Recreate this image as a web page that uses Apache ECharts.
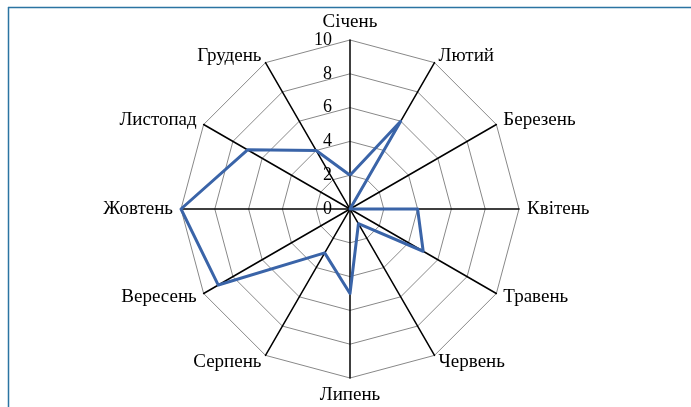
<!DOCTYPE html>
<html>
<head>
<meta charset="utf-8">
<script src="https://cdn.jsdelivr.net/npm/echarts@6/dist/echarts.min.js"></script>
<style>
  html, body { margin: 0; padding: 0; background: #fff; }
  #chart { width: 691px; height: 407px; }
</style>
</head>
<body>
<div id="chart"></div>
<script>
var months = ['Січень', 'Лютий', 'Березень', 'Квітень', 'Травень', 'Червень',
              'Липень', 'Серпень', 'Вересень', 'Жовтень', 'Листопад', 'Грудень'];
var values = [2, 6, 0, 4, 5, 1, 5, 3, 9, 10, 7, 4];
var maxValue = 10;

var chart = echarts.init(document.getElementById('chart'));

// radar runs counterclockwise, so keep January on top and reverse the rest
var order = [0];
for (var k = months.length - 1; k > 0; k--) order.push(k);

var indicators = order.map(function (i, pos) {
    var ind = { name: months[i], max: maxValue, min: 0 };
    // tick labels only on the top axis
    if (pos === 0) {
        ind.axisLabel = { show: true };
    }
    return ind;
});
var ordered = order.map(function (i) { return values[i]; });

var option = {
    animation: false,
    graphic: [
        { type: 'line', shape: { x1: 8, y1: 7.5, x2: 691, y2: 7.5 }, style: { stroke: '#2b74a2', lineWidth: 1.5 } },
        { type: 'line', shape: { x1: 8.5, y1: 7, x2: 8.5, y2: 407 }, style: { stroke: '#2b74a2', lineWidth: 1.5 } }
    ],
    radar: {
        center: [350, 209],
        radius: 169,
        startAngle: 90,
        shape: 'polygon',
        splitNumber: 5,
        indicator: indicators,
        nameGap: 8,
        axisName: {
            color: '#000',
            fontFamily: 'Liberation Serif',
            fontSize: 19
        },
        axisLine: { lineStyle: { color: '#000', width: 1.5 } },
        splitLine: { lineStyle: { color: '#888', width: 1 } },
        splitArea: { show: false },
        axisTick: { show: false },
        axisLabel: {
            show: false,
            color: '#000',
            fontFamily: 'Liberation Serif',
            fontSize: 18,
            margin: 18
        }
    },
    series: [{
        type: 'radar',
        symbol: 'none',
        lineStyle: { color: '#3a64a8', width: 3 },
        data: [{ value: ordered, name: 'values' }]
    }]
};

chart.setOption(option);
</script>
</body>
</html>
